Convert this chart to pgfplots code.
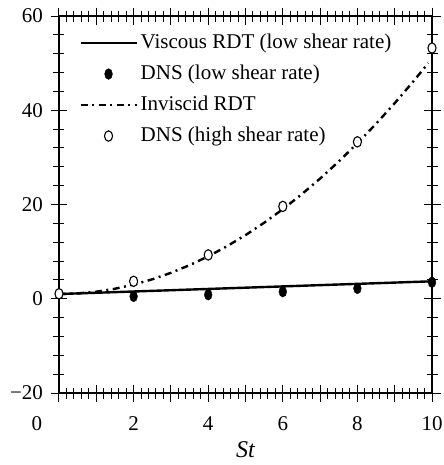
\documentclass[border=0pt]{standalone}
\usepackage{pgfplots}
\pgfplotsset{compat=1.18}
\usepackage{fontspec}
\setmainfont{Liberation Serif}
\pgfplotsset{
  lineleg/.style={legend image code/.code={\draw[##1] (0bp,0bp) -- (56bp,0bp);}},
  markleg/.style={legend image code/.code={\draw[##1] plot coordinates {(28bp,0bp)};}},
}
\begin{document}
\begin{tikzpicture}
\begin{axis}[
  at={(0,0)}, anchor=south west,
  scale only axis, width=373bp, height=377bp,
  xmin=0, xmax=10, ymin=-20, ymax=60,
  font=\fontsize{21bp}{25bp}\selectfont,
  /pgf/number format/assume math mode=true,
  axis line style={line width=1.2bp},
  tick style={line width=1bp, black},
  tickpos=both, tick align=center,
  major tick length=17bp, minor tick length=11bp,
  xtick={0,1,...,10},
  xticklabels={\llap{0\hspace{16.75bp}},,2,,4,,6,,8,,10},
  minor x tick num=4,
  ytick={-20,0,20,40,60},
  yticklabels={−20,0,20,40,60},
  minor y tick num=4,
  xticklabel style={yshift=-12bp},
  yticklabel style={xshift=-4bp},
  xlabel={\fontsize{24bp}{28bp}\selectfont\itshape St},
  xlabel style={yshift=-4bp},
  clip=false,
  legend cell align=left,
  legend style={at={(0.054,0.958)}, anchor=north west, draw=none, fill=none,
    inner sep=0pt, row sep=9bp, column sep=2bp,
    nodes={inner sep=1bp, text height=15bp, text depth=5bp},
    font=\fontsize{21bp}{25bp}\selectfont},
]
\addplot[black, line width=2.4bp, mark=none, lineleg]
  coordinates {(0,1.0) (10,3.7)};
\addlegendentry{Viscous RDT (low shear rate)}
\addplot[black, only marks, mark=*, mark size=5.4bp, mark options={xscale=0.72}, markleg]
  coordinates {(0,1.0) (2,0.5) (4,0.85) (6,1.5) (8,2.2) (10,3.5)};
\addlegendentry{DNS (low shear rate)}
\addplot[black, line width=2.4bp, mark=none, dash pattern=on 7bp off 4.5bp on 2bp off 4.5bp, lineleg]
  coordinates {(0,1) (0.5,1.125) (1,1.5) (1.5,2.125) (2,3) (2.5,4.125) (3,5.5) (3.5,7.125)
  (4,9) (4.5,11.125) (5,13.5) (5.5,16.125) (6,19) (6.5,22.125) (7,25.5) (7.5,29.125)
  (8,33) (8.5,37.125) (9,41.5) (9.5,46.125) (9.9,50.0)};
\addlegendentry{Inviscid RDT}
\addplot[black, only marks, mark=*, mark size=5.2bp, mark options={xscale=0.78, fill=white, line width=1.1bp}, markleg]
  coordinates {(0,1.06) (2,3.7) (4,9.3) (6,19.6) (8,33.3) (10,53.2)};
\addlegendentry{DNS (high shear rate)}
\end{axis}
\pgfresetboundingbox
\path (-59bp,-72bp) rectangle (385bp,393bp);
\end{tikzpicture}
\end{document}
